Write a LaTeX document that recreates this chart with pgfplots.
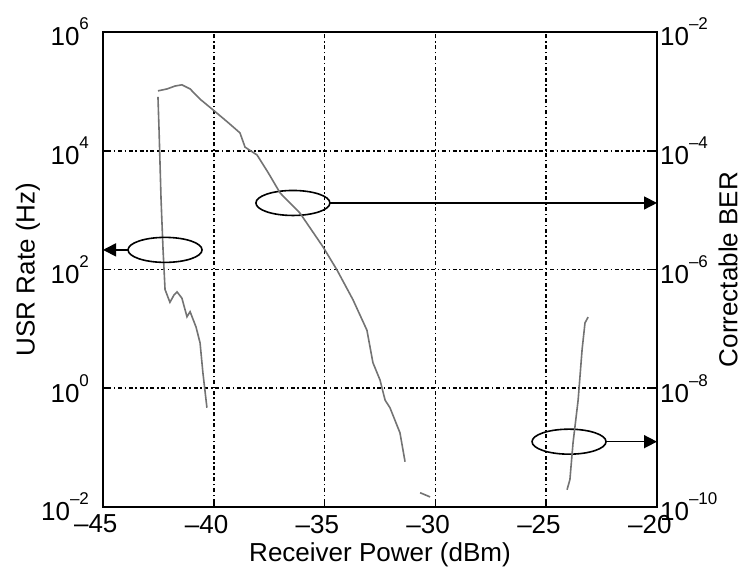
\documentclass[border=0pt]{standalone}
\usepackage{fontspec}
\setmainfont{Liberation Sans}
\usepackage{pgfplots}
\pgfplotsset{compat=1.18}
\usetikzlibrary{arrows.meta}

% 10 with a small raised exponent
\newcommand{\tp}[1]{10\raisebox{8pt}{\fontsize{8.5}{9}\selectfont #1}}
\newcommand{\nx}[1]{\llap{–}#1}

\tikzset{
  usrcurve/.style={color=black!55, line width=0.8pt},
  usrtag/.style={line width=0.8pt},
  usrptr/.style={line width=0.8pt, -{Triangle[length=6.5pt,width=6.5pt]}},
}

\begin{document}
\begin{tikzpicture}
\begin{axis}[name=ax,
    width=277pt, height=237.5pt, scale only axis,
    xmin=-45, xmax=-20, ymode=log,
    ymin=1e-2, ymax=1e6,
    yminorticks=false,
    tick label style={font=\fontsize{13}{15}\selectfont},
    label style={font=\fontsize{13}{15}\selectfont},
    tick align=inside, major tick length=3pt,
    every tick/.style={black, line width=0.8pt},
    axis line style={line width=1pt},
    clip=false,
    xtick={-45,-40,-35,-30,-25,-20},
    xticklabels={\nx{45},\nx{40},\nx{35},\nx{30},\nx{25},\nx{20}},
    xticklabel style={yshift=-0.5pt},
    ytick={1e-2,1,1e2,1e4,1e6},
    yticklabels={\tp{–2},\tp{0},\tp{2},\tp{4},\tp{6}},
    yticklabel style={xshift=-3.5pt},
    xtick pos=bottom, ytick pos=left,
    grid=major,
    major grid style={black, line width=0.85pt,
      dash pattern=on 0.8pt off 1.3pt on 2pt off 1.3pt},
    xlabel={Receiver Power (dBm)},
    ylabel={USR Rate (Hz)},
    xlabel style={at={(axis description cs:0.5,0)}, anchor=center, yshift=-24pt},
    ylabel style={at={(axis description cs:0,0.5)}, anchor=center, yshift=37.5pt},
  ]
  % USR rate
  \addplot[usrcurve, no marks] coordinates {
    (-42.52,8.1e4) (-42.47,2.2e4) (-42.38,1.5e3) (-42.29,214) (-42.20,46)
    (-41.98,28) (-41.80,37) (-41.66,42) (-41.44,33) (-41.21,16)
    (-41.07,19.5) (-40.80,10.7) (-40.62,5.8) (-40.49,1.8) (-40.31,0.47)
  };
  % annotations
  \draw[usrtag] (axis cs:-42.20,214) ellipse [x radius=18.5pt, y radius=6.25pt];
  \draw[usrptr] (axis cs:-43.87,214) -- (axis cs:-45,214);
  \draw[usrtag] (axis cs:-36.43,1320) ellipse [x radius=18.5pt, y radius=6.25pt];
  \draw[usrptr] (axis cs:-34.80,1320) -- (axis cs:-20,1320);
  \draw[usrtag] (axis cs:-23.97,0.126) ellipse [x radius=18.5pt, y radius=6.25pt];
  \draw[usrptr] (axis cs:-22.30,0.126) -- (axis cs:-20,0.126);
\end{axis}

\begin{axis}[
    width=277pt, height=237.5pt, scale only axis,
    xmin=-45, xmax=-20, ymode=log,
    ymin=1e-10, ymax=1e-2,
    yminorticks=false,
    tick label style={font=\fontsize{13}{15}\selectfont},
    label style={font=\fontsize{13}{15}\selectfont},
    tick align=inside, major tick length=3pt,
    every tick/.style={black, line width=0.8pt},
    axis line style={line width=1pt},
    axis x line=none, axis y line*=right,
    ytick={1e-10,1e-8,1e-6,1e-4,1e-2},
    yticklabels={\tp{–10},\tp{–8},\tp{–6},\tp{–4},\tp{–2}},
    yticklabel style={xshift=-2pt},
    ylabel={Correctable BER},
    ylabel style={at={(axis description cs:1,0.5)}, anchor=center, yshift=-35.5pt},
  ]
  % correctable BER
  \addplot[usrcurve, no marks] coordinates {
    (-42.52,1.02e-3) (-42.11,1.1e-3) (-41.75,1.23e-3) (-41.44,1.29e-3)
    (-41.07,1.1e-3) (-40.62,7.4e-4) (-40.04,4.9e-4) (-39.36,3.0e-4)
    (-38.82,2.0e-4) (-38.59,1.15e-4) (-38.05,8.5e-5) (-37.55,4.3e-5)
    (-37.01,1.95e-5) (-36.11,8.9e-6) (-35.07,2.4e-6) (-34.44,9.8e-7)
    (-33.72,3.1e-7) (-33.09,9.5e-8) (-32.82,2.7e-8) (-32.50,1.38e-8)
    (-32.27,6.3e-9) (-32.05,4.7e-9) (-31.60,1.78e-9) (-31.37,5.8e-10)
  };
  \addplot[usrcurve, no marks] coordinates {(-30.69,1.74e-10) (-30.24,1.48e-10)};
  \addplot[usrcurve, no marks] coordinates {
    (-24.06,1.95e-10) (-23.93,2.9e-10) (-23.79,1.2e-9) (-23.56,6.3e-9)
    (-23.38,4.5e-8) (-23.25,1.26e-7) (-23.11,1.58e-7)
  };
\end{axis}
\pgfresetboundingbox
\path ([shift={(-51.5pt,-30.5pt)}]ax.south west) rectangle ([shift={(44.5pt,16pt)}]ax.north east);
\end{tikzpicture}
\end{document}
